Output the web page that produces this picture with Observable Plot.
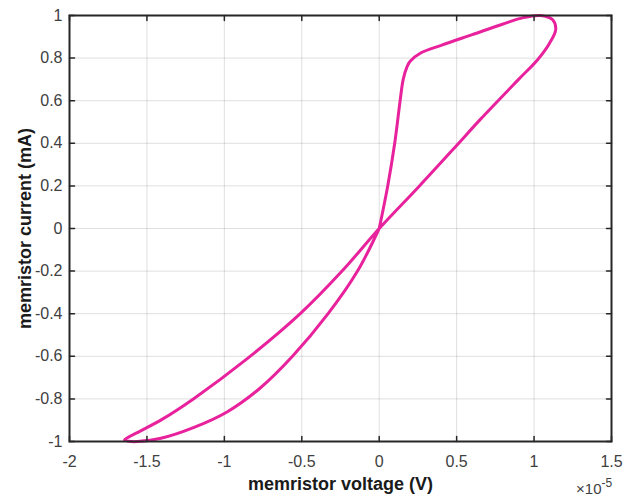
<!DOCTYPE html>
<html>
<head>
<meta charset="utf-8">
<script src="https://cdn.jsdelivr.net/npm/d3@7"></script>
<script src="https://cdn.jsdelivr.net/npm/@observablehq/plot@0.6"></script>
<style>
  body { margin: 0; background: #fff; }
  #chart svg { display: block; }
</style>
</head>
<body>
<div id="chart"></div>
<script>
// Pinched hysteresis loop of the memristor: voltage in units of 1e-5 V, current in mA
const voltage = [
  0, 0.055, 0.10, 0.135, 0.155, 0.18, 0.2, 0.27, 0.4, 0.6, 0.8, 0.93, 1.04, 1.12, 1.14, 1.1, 1.02, 0.9, 0.65, 0.5, 0.26,
  0, -0.24, -0.51, -0.85, -1.2, -1.4, -1.54, -1.62, -1.645, -1.6, -1.56, -1.41, -1.2, -0.98, -0.77, -0.56, -0.33, -0.14, 0
];
const current = [
  0, 0.2, 0.4, 0.6, 0.70, 0.76, 0.785, 0.825, 0.86, 0.91, 0.96, 0.99, 1.0, 0.98, 0.935, 0.87, 0.79, 0.70, 0.51, 0.39, 0.2,
  0, -0.2, -0.4, -0.61, -0.8, -0.895, -0.95, -0.98, -0.993, -1.0, -1.0, -0.985, -0.935, -0.86, -0.75, -0.6, -0.4, -0.2, 0
];

const xDomain = [-2, 1.5];
const yDomain = [-1, 1];
const xTicks = [-2, -1.5, -1, -0.5, 0, 0.5, 1, 1.5];
const yTicks = [-1, -0.8, -0.6, -0.4, -0.2, 0, 0.2, 0.4, 0.6, 0.8, 1];

const loop = voltage.map((v, k) => ({v, c: current[k]}));

// short inward tick drawn from the anchor point
const tickShape = {draw(context, l) { context.moveTo(0, 0); context.lineTo(0, -l); }};
const tickStyle = {length: 5, anchor: "start", shape: tickShape, stroke: "#262626", strokeWidth: 1.5};
const fmt = d => String(d);

const chart = Plot.plot({
  width: 623,
  height: 498,
  marginLeft: 69,
  marginRight: 12,
  marginTop: 15,
  marginBottom: 57,
  style: {fontFamily: "'Liberation Sans', Arial, sans-serif", fontSize: "16px", background: "#fff"},
  x: {domain: xDomain},
  y: {domain: yDomain},
  marks: [
    Plot.gridX(xTicks, {stroke: "#262626", strokeOpacity: 0.15, strokeWidth: 1}),
    Plot.gridY(yTicks, {stroke: "#262626", strokeOpacity: 0.15, strokeWidth: 1}),
    Plot.line(loop, {x: "v", y: "c", stroke: "#e8219c", strokeWidth: 3, curve: "catmull-rom"}),
    Plot.frame({stroke: "#262626", strokeWidth: 2}),
    Plot.vector(xTicks, {x: d => d, y: yDomain[0], rotate: 0, ...tickStyle}),
    Plot.vector(xTicks, {x: d => d, y: yDomain[1], rotate: 180, ...tickStyle}),
    Plot.vector(yTicks, {x: xDomain[0], y: d => d, rotate: 90, ...tickStyle}),
    Plot.vector(yTicks, {x: xDomain[1], y: d => d, rotate: -90, ...tickStyle}),
    Plot.axisX(xTicks, {anchor: "bottom", tickSize: 0, tickPadding: 14, tickFormat: fmt, fill: "#404040", fontSize: 16, label: null}),
    Plot.axisY(yTicks, {anchor: "left", tickSize: 0, tickPadding: 7, tickFormat: fmt, fill: "#404040", fontSize: 16, label: null}),
    Plot.text(["memristor voltage (V)"], {frameAnchor: "bottom", dy: 48, fontWeight: "bold", fontSize: 18, fill: "#1a1a1a", lineAnchor: "bottom"}),
    Plot.text(["memristor current (mA)"], {frameAnchor: "left", dx: -44, rotate: -90, textAnchor: "middle", fontWeight: "bold", fontSize: 18, fill: "#1a1a1a"}),
    Plot.text(["×10"], {frameAnchor: "bottom-right", dx: -10, dy: 52, textAnchor: "end", lineAnchor: "bottom", fontSize: 15, fill: "#404040"}),
    Plot.text(["-5"], {frameAnchor: "bottom-right", dx: -10, dy: 45, textAnchor: "start", lineAnchor: "bottom", fontSize: 12, fill: "#404040"})
  ]
});

document.getElementById("chart").append(chart);
</script>
</body>
</html>
